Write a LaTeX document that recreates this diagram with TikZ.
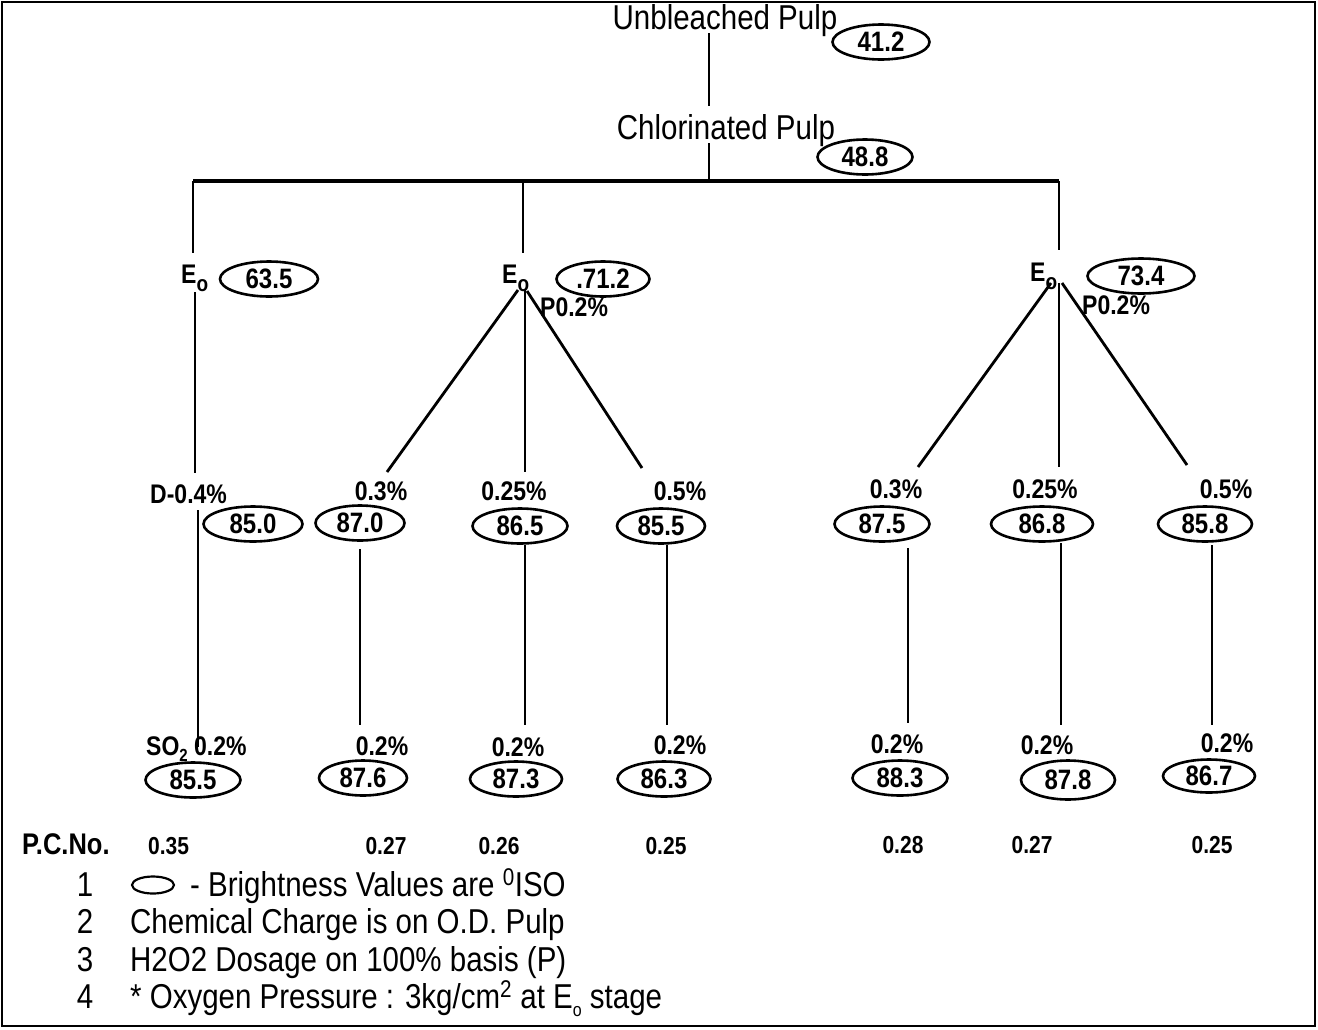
\documentclass[tikz,border=0pt]{standalone}
\usepackage{fontspec}
\usepackage{graphicx}
\setmainfont{Liberation Sans}
\usetikzlibrary{shapes.geometric}
\newcommand{\tall}[1]{\scalebox{1}[1.17]{#1}}
\newcommand{\Eo}{\tall{E\raisebox{-0.32em}{\fontsize{19}{19}\selectfont o}}}
\begin{document}
\begin{tikzpicture}[x=1pt,y=-1pt,
  title/.style={font=\fontsize{29.5}{32}\selectfont, inner sep=0, anchor=base},
  lab/.style={font=\bfseries\fontsize{23}{26}\selectfont, inner sep=0, anchor=base},
  val/.style={draw, ellipse, line width=2.6pt, inner sep=0, minimum height=35, minimum width=95,
              font=\bfseries\fontsize{24}{26}\selectfont},
  wire/.style={line width=2.8pt},
  pc/.style={font=\bfseries\fontsize{21}{24}\selectfont, inner sep=0, anchor=base},
  leg/.style={font=\fontsize{29.5}{32}\selectfont, inner sep=0, anchor=base west},
  legnum/.style={font=\fontsize{29.5}{32}\selectfont, inner sep=0, anchor=base}]
\useasboundingbox (0,0) rectangle (1318,1029);
\draw[line width=2.8pt] (2,2) rectangle (1315,1026);

% titles
\node[title] (unb) at (725,29) {\tall{Unbleached Pulp}};
\node[title] (chl) at (726,139) {\tall{Chlorinated Pulp}};
\node[val, minimum width=97] (v412) at (881,42) {\tall{41.2}};
\node[val, minimum width=95] (v488) at (865,157) {\tall{48.8}};

% Eo stages
\node[lab, anchor=base west] (eo1) at (181,283) {\Eo};
\node[lab, anchor=base west] (eo2) at (502,283) {\Eo};
\node[lab, anchor=base west] (eo3) at (1030,281) {\Eo};
\node[val, minimum width=98] (v635) at (269,279) {\tall{63.5}};
\node[val, minimum width=93] (v712) at (603,279) {\tall{.71.2}};
\node[val, minimum width=107] (v734) at (1141,276) {\tall{73.4}};
\node[lab, anchor=base west] (p2) at (540,316) {\tall{P0.2\%}};
\node[lab, anchor=base west] (p3) at (1082,314) {\tall{P0.2\%}};

% level 3 labels
\node[lab, anchor=base west] (d04) at (150,503) {\tall{D-0.4\%}};
\node[lab] (l31) at (381,500) {\tall{0.3\%}};
\node[lab] (l32) at (514,500) {\tall{0.25\%}};
\node[lab] (l33) at (680,500) {\tall{0.5\%}};
\node[lab] (l34) at (896,498) {\tall{0.3\%}};
\node[lab] (l35) at (1045,498) {\tall{0.25\%}};
\node[lab] (l36) at (1226,498) {\tall{0.5\%}};

\node[val, minimum width=99] (v850) at (253,524) {\tall{85.0}};
\node[val, minimum width=89] (v870) at (360,523) {\tall{87.0}};
\node[val, minimum width=95] (v865) at (520,526) {\tall{86.5}};
\node[val, minimum width=88] (v855) at (661,526) {\tall{85.5}};
\node[val, minimum width=95] (v875) at (882,524) {\tall{87.5}};
\node[val, minimum width=102] (v868) at (1042,524) {\tall{86.8}};
\node[val, minimum width=94] (v858) at (1205,524) {\tall{85.8}};

% level 4 labels
\node[lab, anchor=base west] (so2) at (146,755) {\tall{SO\raisebox{-0.25em}{\fontsize{15}{15}\selectfont 2} 0.2\%}};
\node[lab] (l41) at (382,755) {\tall{0.2\%}};
\node[lab] (l42) at (518,756) {\tall{0.2\%}};
\node[lab] (l43) at (680,754) {\tall{0.2\%}};
\node[lab] (l44) at (897,753) {\tall{0.2\%}};
\node[lab] (l45) at (1047,754) {\tall{0.2\%}};
\node[lab] (l46) at (1227,752) {\tall{0.2\%}};

\node[val, minimum width=95] (w855) at (193,780) {\tall{85.5}};
\node[val, minimum width=88] (w876) at (363,778) {\tall{87.6}};
\node[val, minimum width=92] (w873) at (516,779) {\tall{87.3}};
\node[val, minimum width=93] (w863) at (664,779) {\tall{86.3}};
\node[val, minimum width=95] (w883) at (900,778) {\tall{88.3}};
\node[val, minimum width=94, minimum height=39] (w878) at (1068,780) {\tall{87.8}};
\node[val, minimum width=92, minimum height=33] (w867) at (1209,776) {\tall{86.7}};

% P.C.No. row
\node[pc, anchor=base west, font=\bfseries\fontsize{25.5}{28}\selectfont] (pcl) at (22,854) {\tall{P.C.No.}};
\node[pc, anchor=base west] (pc1) at (148,854) {\tall{0.35}};
\node[pc] (pc2) at (386,854) {\tall{0.27}};
\node[pc] (pc3) at (499,854) {\tall{0.26}};
\node[pc] (pc4) at (666,854) {\tall{0.25}};
\node[pc] (pc5) at (903,853) {\tall{0.28}};
\node[pc] (pc6) at (1032,853) {\tall{0.27}};
\node[pc] (pc7) at (1212,853) {\tall{0.25}};

% legend
\node[legnum] (n1) at (85,896) {\tall{1}};
\node[legnum] (n2) at (85,933) {\tall{2}};
\node[legnum] (n3) at (85,971) {\tall{3}};
\node[legnum] (n4) at (85,1008) {\tall{4}};
\node[draw, ellipse, line width=2.2pt, inner sep=0, minimum width=42, minimum height=17] (legell) at (153,885) {};
\node[leg] (t1) at (190,896) {\tall{- Brightness Values are \textsuperscript{0}ISO}};
\node[leg] (t2) at (130,933) {\tall{Chemical Charge is on O.D. Pulp}};
\node[leg] (t3) at (130,971) {\tall{H2O2 Dosage on 100\% basis (P)}};
\node[leg] (t4) at (130,1008) {\tall{* Oxygen Pressure : 3kg/cm\textsuperscript{2} at E\raisebox{-0.25em}{\fontsize{16}{16}\selectfont o} stage}};

% connector end points
\coordinate (a1) at (709,33);  \coordinate (a2) at (709,106);
\coordinate (b1) at (709,143); \coordinate (b2) at (709,181);
\coordinate (barL) at (193,181); \coordinate (barM) at (523,181); \coordinate (barR) at (1059,181);
\coordinate (e1t) at (193,253); \coordinate (e2t) at (523,253); \coordinate (e3t) at (1059,250);
\coordinate (e1b) at (195,292); \coordinate (d1) at (195,473);
\coordinate (d2) at (198,510); \coordinate (d3) at (198,747);
\coordinate (m0a) at (518,290); \coordinate (m1) at (387,472);
\coordinate (m0b) at (525,290); \coordinate (m2) at (525,472);
\coordinate (m0c) at (527,291); \coordinate (m3) at (642,468);
\coordinate (r0a) at (1051,283); \coordinate (r1) at (918,467);
\coordinate (r0b) at (1059,283); \coordinate (r2) at (1059,467);
\coordinate (r0c) at (1062,283); \coordinate (r3) at (1187,465);
\coordinate (s1a) at (360,549);  \coordinate (s1b) at (360,725);
\coordinate (s2a) at (525,545);  \coordinate (s2b) at (525,725);
\coordinate (s3a) at (667,545);  \coordinate (s3b) at (667,725);
\coordinate (s4a) at (908,548);  \coordinate (s4b) at (908,723);
\coordinate (s5a) at (1061,543); \coordinate (s5b) at (1061,725);
\coordinate (s6a) at (1212,545); \coordinate (s6b) at (1212,725);

\draw[wire] (a1) -- (a2);
\draw[wire] (b1) -- (b2);
\draw[wire, line width=3.2pt] (barL) -- (barR);
\draw[wire] (barL) -- (e1t);
\draw[wire] (barM) -- (e2t);
\draw[wire] (barR) -- (e3t);
\draw[wire] (e1b) -- (d1);
\draw[wire] (d2) -- (d3);
\draw[wire] (m0a) -- (m1);
\draw[wire] (m0b) -- (m2);
\draw[wire] (m0c) -- (m3);
\draw[wire] (r0a) -- (r1);
\draw[wire] (r0b) -- (r2);
\draw[wire] (r0c) -- (r3);
\draw[wire] (s1a) -- (s1b);
\draw[wire] (s2a) -- (s2b);
\draw[wire] (s3a) -- (s3b);
\draw[wire] (s4a) -- (s4b);
\draw[wire] (s5a) -- (s5b);
\draw[wire] (s6a) -- (s6b);
\end{tikzpicture}
\end{document}
